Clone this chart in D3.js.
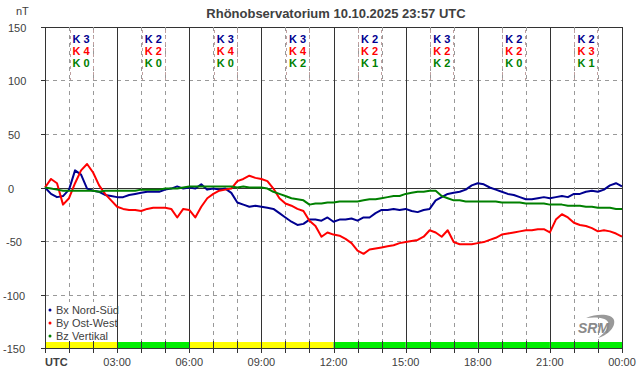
<!DOCTYPE html>
<html>
<head>
<meta charset="utf-8">
<script src="https://cdn.jsdelivr.net/npm/d3@7"></script>
<style>
  body { margin: 0; background: #fff; }
  svg { display: block; font-family: "Liberation Sans", Arial, sans-serif; }
</style>
</head>
<body>
<svg id="chart" width="642" height="376"></svg>
<script>
// values every 15 minutes, 00:00 .. 24:00 UTC (nT)
const bx = [0, -6, -9, -8, -2, 16, 12, -1, -3, -4, -7, -8,
    -9, -9, -7, -6, -5, -4, -4, -4, -2, -1, 1, -1,
    0, -1, 3, -2, -1, -2, -1, -5, -14, -16, -18, -17,
    -18, -19, -20, -24, -28, -32, -35, -34, -30, -30, -31, -28,
    -32, -30, -30, -29, -31, -28, -28, -24, -21, -21, -20, -21,
    -20, -22, -23, -21, -20, -12, -9, -6, -5, -4, -2, 2,
    4, 3, 0, -2, -4, -6, -7, -9, -11, -11, -10, -9,
    -10, -9, -8, -9, -6, -6, -4, -3, -4, -2, 2, 4, 1];
const by = [0, 8, 4, -16, -10, 4, 16, 22, 14, 2, -6, -12,
    -18, -20, -21, -21, -22, -20, -19, -19, -19, -20, -28, -20,
    -21, -28, -18, -10, -6, -3, -2, -1, 6, 8, 11, 9,
    8, 6, -1, -10, -15, -17, -20, -22, -31, -36, -46, -42,
    -44, -45, -48, -52, -59, -62, -58, -57, -56, -55, -54, -52,
    -51, -50, -49, -46, -40, -42, -46, -40, -51, -53, -53, -53,
    -52, -51, -49, -47, -44, -43, -42, -41, -40, -40, -39, -39,
    -42, -30, -25, -28, -33, -35, -36, -38, -41, -40, -41, -43, -46];
const bz = [0, -1, -2, -3, -3, -3, -3, -3, -3, -4, -3, -3,
    -3, -3, -3, -3, -2, -2, -2, -2, -1, -1, -1, 0,
    1, 1, 1, 1, 1, 1, 1, 1, 0, 1, 0, 0,
    0, -1, -4, -6, -8, -10, -11, -12, -16, -15, -15, -14,
    -14, -13, -13, -13, -13, -12, -11, -11, -10, -9, -8, -8,
    -6, -5, -4, -4, -3, -3, -8, -10, -12, -12, -13, -13,
    -13, -13, -13, -13, -14, -14, -14, -14, -15, -15, -15, -15,
    -16, -16, -16, -17, -17, -17, -18, -18, -19, -19, -19, -20, -20];

// K indices per 3-hour block
const kBx = [3, 2, 3, 3, 2, 3, 2, 2];
const kBy = [4, 2, 4, 4, 2, 2, 2, 3];
const kBz = [0, 0, 0, 2, 1, 2, 0, 1];

const hourLabels = ['UTC', '03:00', '06:00', '09:00', '12:00', '15:00', '18:00', '21:00', '00:00'];
const yTicks = [150, 100, 50, 0, -50, -100, -150];
const seriesNames = ['Bx Nord-Süd', 'By Ost-West', 'Bz Vertikal'];

const colors = ['#000090', '#ff0000', '#008000'];

const svg = d3.select('#chart');
const x = d3.scaleLinear().domain([0, 24]).range([45, 622]);
const y = d3.scaleLinear().domain([-150, 150]).range([348, 27]);

// title
svg.append('text')
    .attr('x', 336).attr('y', 18)
    .attr('text-anchor', 'middle')
    .style('font-size', '13px').style('font-weight', 'bold')
    .style('fill', '#404040')
    .text('Rhönobservatorium 10.10.2025 23:57 UTC');

svg.append('text')
    .attr('x', 16).attr('y', 15)
    .style('font-size', '11px').style('fill', '#404040')
    .text('nT');

// horizontal grid
const grid = svg.append('g');
yTicks.forEach(function(v) {
    const yy = Math.round(y(v)) + 0.5;
    const solid = (v === 0 || v === 150 || v === -150);
    grid.append('line')
        .attr('x1', 41).attr('x2', 45)
        .attr('y1', yy).attr('y2', yy)
        .style('stroke', '#333');
    grid.append('line')
        .attr('x1', 45).attr('x2', 622)
        .attr('y1', yy).attr('y2', yy)
        .style('stroke', solid ? '#333' : '#999')
        .style('stroke-dasharray', solid ? null : '4,4');
    svg.append('text')
        .attr('x', v < 0 ? 3 + (v > -100 ? 3 : 0) : 8)
        .attr('y', yy + 4)
        .style('font-size', '11px').style('fill', '#404040')
        .text(v);
});

// vertical grid
d3.range(0, 25).forEach(function(h) {
    const xx = Math.round(x(h)) + 0.5;
    const major = h % 3 === 0;
    grid.append('line')
        .attr('x1', xx).attr('x2', xx)
        .attr('y1', 27).attr('y2', 348)
        .style('stroke', major ? '#333' : '#999')
        .style('stroke-dasharray', major ? null : '4,4');
});

// K-index strip
kBx.forEach(function(k, i) {
    const kMax = Math.max(k, kBy[i], kBz[i]);
    svg.append('rect')
        .attr('x', x(i * 3)).attr('y', 342)
        .attr('width', x(i * 3 + 3) - x(i * 3)).attr('height', 6)
        .style('fill', kMax >= 4 ? '#ffff00' : '#00ee00');
});

// bottom axis ticks and labels
d3.range(0, 25).forEach(function(h) {
    const xx = Math.round(x(h)) + 0.5;
    svg.append('line')
        .attr('x1', xx).attr('x2', xx)
        .attr('y1', 341).attr('y2', 353)
        .style('stroke', '#333');
});
svg.append('line')
    .attr('x1', 45).attr('x2', 622)
    .attr('y1', 348.5).attr('y2', 348.5)
    .style('stroke', '#333');
hourLabels.forEach(function(lbl, i) {
    const first = i === 0;
    svg.append('text')
        .attr('x', first ? 45 : x(i * 3))
        .attr('y', 366)
        .attr('text-anchor', first ? 'start' : 'middle')
        .style('font-size', '11px')
        .style('font-weight', first ? 'bold' : 'normal')
        .style('fill', '#404040')
        .text(lbl);
});

// K labels
const kRows = [kBx, kBy, kBz];
d3.range(8).forEach(function(i) {
    const cx = x(i * 3 + 1.5);
    [-11.5, 11.5].forEach(function(dx) {
        svg.append('line')
            .attr('x1', Math.round(cx + dx) + 0.5).attr('x2', Math.round(cx + dx) + 0.5)
            .attr('y1', 30).attr('y2', 80)
            .style('stroke', '#c0a0a0')
            .style('stroke-dasharray', '3,3');
    });
    kRows.forEach(function(row, r) {
        svg.append('text')
            .attr('x', cx).attr('y', 43 + r * 12)
            .attr('text-anchor', 'middle')
            .style('font-size', '11px').style('font-weight', 'bold')
            .style('fill', colors[r])
            .text('K ' + row[i]);
    });
});

// series lines
const line = d3.line()
    .x(function(d, i) { return x(i * 0.25); })
    .y(function(d) { return y(d); });
[bx, by, bz].forEach(function(data, i) {
    svg.append('path')
        .datum(data)
        .attr('d', line)
        .style('fill', 'none')
        .style('stroke', colors[i])
        .style('stroke-width', 2)
        .style('stroke-linejoin', 'round');
});

// legend
svg.append('rect')
    .attr('x', 46).attr('y', 302)
    .attr('width', 70).attr('height', 39)
    .style('fill', '#fff');
seriesNames.forEach(function(name, i) {
    svg.append('circle')
        .attr('cx', 50).attr('cy', 310 + i * 13).attr('r', 1.5)
        .style('fill', colors[i]);
    svg.append('text')
        .attr('x', 56).attr('y', 314 + i * 13)
        .style('font-size', '11px').style('fill', '#404040')
        .text(name);
});

// logo
const logo = svg.append('g').attr('transform', 'translate(578,316)');
logo.append('path')
    .attr('d', 'M8,2 C20,-3 34,-2 36,4 C38,12 28,20 20,22 C28,16 32,10 30,6 C27,1 16,1 8,2 Z')
    .style('fill', '#999');
logo.append('text')
    .attr('x', 0).attr('y', 17)
    .style('font-size', '14px').style('font-style', 'italic').style('font-weight', 'bold')
    .style('fill', '#8a8a8a')
    .text('SRM');
</script>
</body>
</html>
